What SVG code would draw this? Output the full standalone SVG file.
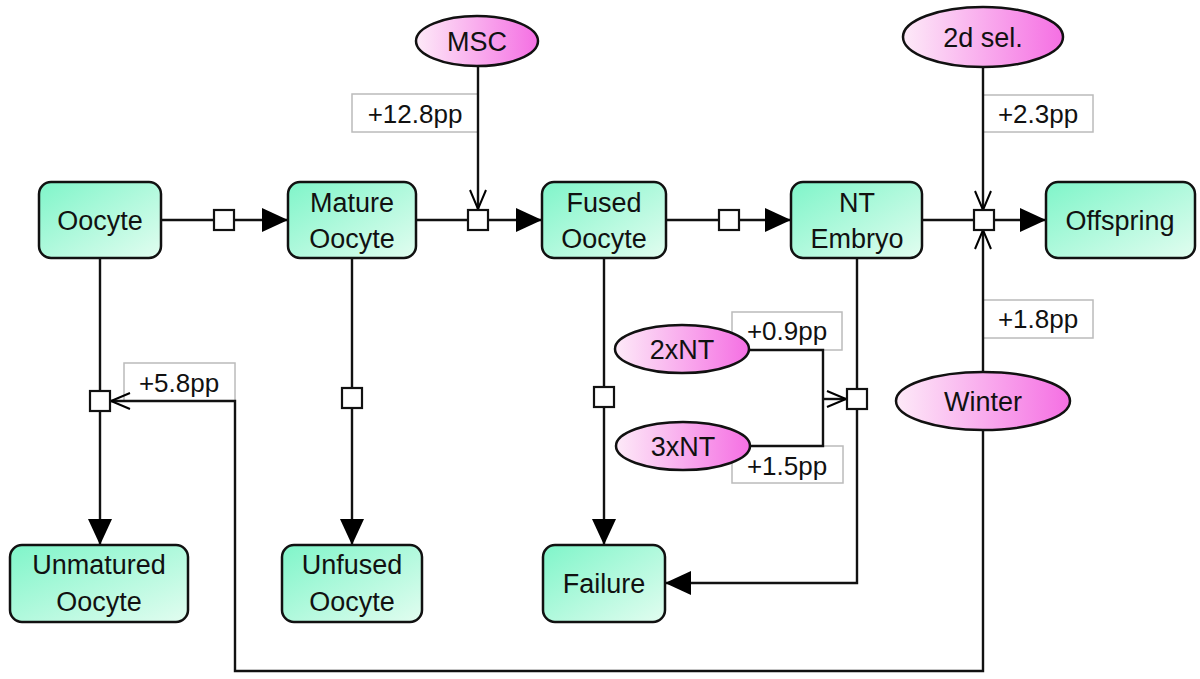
<svg xmlns="http://www.w3.org/2000/svg" width="1200" height="679" viewBox="0 0 1200 679">
<defs>
<linearGradient id="gGreen" x1="0" y1="0" x2="1" y2="1">
<stop offset="0" stop-color="#7ff5c9"/>
<stop offset="1" stop-color="#e2fdf0"/>
</linearGradient>
<linearGradient id="gPink" x1="0" y1="0" x2="1" y2="0">
<stop offset="0" stop-color="#fdeaf8"/>
<stop offset="1" stop-color="#f56fe3"/>
</linearGradient>
<marker id="mFill" markerUnits="userSpaceOnUse" viewBox="0 0 26 24" refX="26" refY="12" markerWidth="26" markerHeight="24" orient="auto">
<path d="M0,0 L26,12 L0,24 Z" fill="#000"/>
</marker>
<marker id="mOpen" markerUnits="userSpaceOnUse" viewBox="0 0 22 18" refX="20" refY="9" markerWidth="22" markerHeight="18" orient="auto">
<path d="M1,1 L20,9 L1,17" fill="none" stroke="#000" stroke-width="2"/>
</marker>
<style>
.box{fill:url(#gGreen);stroke:#111;stroke-width:2.5}
.ell{fill:url(#gPink);stroke:#111;stroke-width:2.5}
.t{font-family:"Liberation Sans",Arial,sans-serif;font-size:27px;fill:#111;text-anchor:middle}
.lb{fill:#fff;stroke:#bbb;stroke-width:1.5}
.lt{font-family:"Liberation Sans",Arial,sans-serif;font-size:26px;fill:#111;text-anchor:middle}
.c{fill:none;stroke:#111;stroke-width:2.4}
.sq{fill:#fff;stroke:#111;stroke-width:2.2}
</style>
</defs>
<rect width="1200" height="679" fill="#fff"/>

<g id="labels">
<rect class="lb" x="352" y="94" width="126" height="38"/>
<text class="lt" x="415" y="123">+12.8pp</text>
<rect class="lb" x="983" y="95" width="110" height="37"/>
<text class="lt" x="1038" y="123">+2.3pp</text>
<rect class="lb" x="983" y="300" width="110" height="38"/>
<text class="lt" x="1038" y="328">+1.8pp</text>
<rect class="lb" x="732" y="312" width="110" height="38"/>
<text class="lt" x="787" y="340">+0.9pp</text>
<rect class="lb" x="732" y="446" width="111" height="37"/>
<text class="lt" x="787" y="475">+1.5pp</text>
<rect class="lb" x="124" y="363" width="111" height="38"/>
<text class="lt" x="179" y="392">+5.8pp</text>
</g>

<g id="connectors">
<path class="c" d="M161,220 H288" marker-end="url(#mFill)"/>
<path class="c" d="M416,220 H542" marker-end="url(#mFill)"/>
<path class="c" d="M666,220 H791" marker-end="url(#mFill)"/>
<path class="c" d="M922,220 H1046" marker-end="url(#mFill)"/>
<path class="c" d="M100,258 V545" marker-end="url(#mFill)"/>
<path class="c" d="M352,258 V545" marker-end="url(#mFill)"/>
<path class="c" d="M604,258 V545" marker-end="url(#mFill)"/>
<path class="c" d="M857,258 V583 H665" marker-end="url(#mFill)"/>
<path class="c" d="M478,66 V209" marker-end="url(#mOpen)"/>
<path class="c" d="M983,67 V210" marker-end="url(#mOpen)"/>
<path class="c" d="M983,372 V230" marker-end="url(#mOpen)"/>
<path class="c" d="M750,350 H823 V446 H751"/>
<path class="c" d="M823,399 H846" marker-end="url(#mOpen)"/>
<path class="c" d="M983,430 V671 H235 V401 H111" marker-end="url(#mOpen)"/>
</g>

<g id="processes">
<rect class="sq" x="214" y="210" width="20" height="20"/>
<rect class="sq" x="468" y="210" width="20" height="20"/>
<rect class="sq" x="719" y="210" width="20" height="20"/>
<rect class="sq" x="974" y="210" width="20" height="20"/>
<rect class="sq" x="90" y="391" width="20" height="20"/>
<rect class="sq" x="342" y="388" width="20" height="20"/>
<rect class="sq" x="594" y="387" width="20" height="20"/>
<rect class="sq" x="847" y="389" width="20" height="20"/>
</g>

<g id="node-oocyte"><rect class="box" x="39" y="182" width="122" height="76" rx="12"/><text class="t" x="100" y="230">Oocyte</text></g>
<g id="node-mature"><rect class="box" x="288" y="182" width="128" height="76" rx="12"/><text class="t" x="352" y="212">Mature</text><text class="t" x="352" y="248">Oocyte</text></g>
<g id="node-fused"><rect class="box" x="542" y="182" width="124" height="76" rx="12"/><text class="t" x="604" y="212">Fused</text><text class="t" x="604" y="248">Oocyte</text></g>
<g id="node-nt"><rect class="box" x="791" y="182" width="131" height="76" rx="12"/><text class="t" x="857" y="212">NT</text><text class="t" x="857" y="248">Embryo</text></g>
<g id="node-offspring"><rect class="box" x="1046" y="182" width="149" height="76" rx="12"/><text class="t" x="1120" y="230">Offspring</text></g>
<g id="node-unmatured"><rect class="box" x="10" y="545" width="178" height="77" rx="12"/><text class="t" x="99" y="574">Unmatured</text><text class="t" x="99" y="611">Oocyte</text></g>
<g id="node-unfused"><rect class="box" x="282" y="545" width="140" height="77" rx="12"/><text class="t" x="352" y="574">Unfused</text><text class="t" x="352" y="611">Oocyte</text></g>
<g id="node-failure"><rect class="box" x="543" y="545" width="122" height="77" rx="12"/><text class="t" x="604" y="593">Failure</text></g>

<g id="node-msc"><ellipse class="ell" cx="477" cy="41" rx="61" ry="25"/><text class="t" x="477" y="51">MSC</text></g>
<g id="node-2dsel"><ellipse class="ell" cx="983" cy="37" rx="80" ry="30"/><text class="t" x="983" y="47">2d sel.</text></g>
<g id="node-winter"><ellipse class="ell" cx="983" cy="401" rx="87" ry="29"/><text class="t" x="983" y="411">Winter</text></g>
<g id="node-2xnt"><ellipse class="ell" cx="682" cy="349" rx="67" ry="24"/><text class="t" x="682" y="359">2xNT</text></g>
<g id="node-3xnt"><ellipse class="ell" cx="683" cy="446" rx="67" ry="24"/><text class="t" x="683" y="456">3xNT</text></g>
</svg>
